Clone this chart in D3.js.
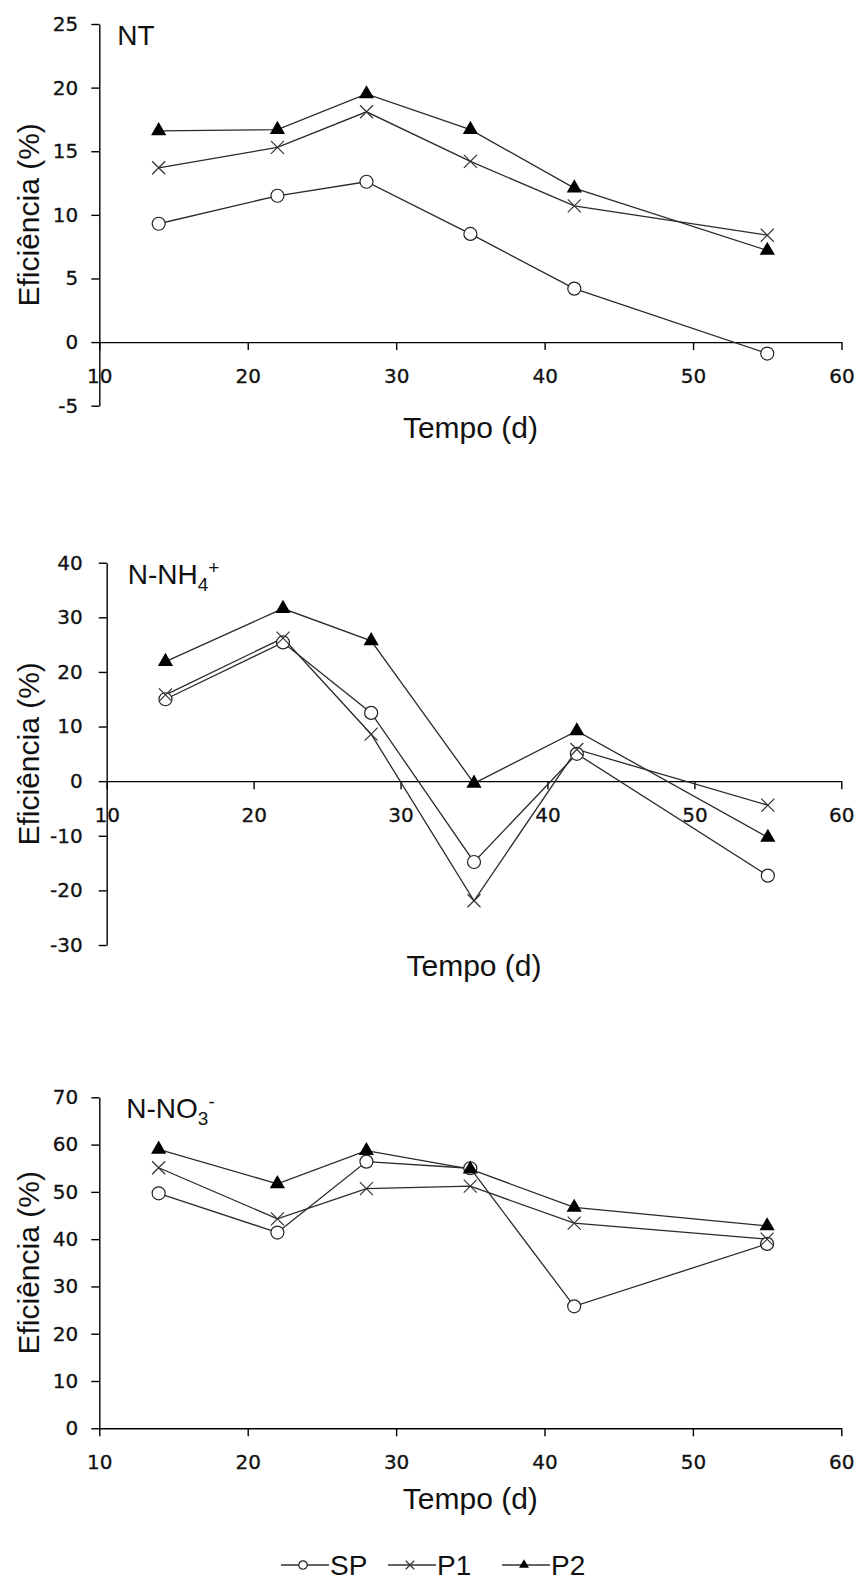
<!DOCTYPE html>
<html>
<head>
<meta charset="utf-8">
<script src="https://cdn.jsdelivr.net/npm/d3@7"></script>
<style>
    body { margin: 0; background: #fff; }
    svg { display: block; }
    .domain, .tick line { stroke: #000; stroke-width: 1.4; }
    .title { font-family: "Liberation Sans", Arial, sans-serif; font-size: 30px; fill: #111; }
    .label, .legend { font-family: "Liberation Sans", Arial, sans-serif; font-size: 28px; fill: #111; }
    .serie { fill: none; stroke: #2a2a2a; stroke-width: 1.3; }
</style>
</head>
<body>
<svg id="chart" width="858" height="1589"></svg>
<script>
// dias de coleta
var days = [14, 22, 28, 35, 42, 55];
var xTicks = [10, 20, 30, 40, 50, 60];
var seriesNames = ["SP", "P1", "P2"];

// NT
var ntSP = [9.3, 11.5, 12.6, 8.5, 4.2, -0.9];
var ntP1 = [13.7, 15.3, 18.1, 14.2, 10.7, 8.4];
var ntP2 = [16.6, 16.7, 19.5, 16.7, 12.1, 7.2];
var ntTicks = [-5, 0, 5, 10, 15, 20, 25];

// N-NH4+
var nh4SP = [15.0, 25.4, 12.5, -14.8, 5.0, -17.3];
var nh4P1 = [15.8, 26.2, 8.6, -21.9, 5.8, -4.4];
var nh4P2 = [21.9, 31.6, 25.7, -0.4, 9.2, -10.3];
var nh4Ticks = [-30, -20, -10, 0, 10, 20, 30, 40];

// N-NO3-
var no3SP = [49.7, 41.4, 56.4, 55.0, 25.8, 39.0];
var no3P1 = [55.1, 44.3, 50.7, 51.2, 43.4, 40.0];
var no3P2 = [59.0, 51.7, 58.7, 54.8, 46.7, 42.8];
var no3Ticks = [0, 10, 20, 30, 40, 50, 60, 70];

(function () {
    var svg = d3.select("#chart");

    // marcadores: circulo vazio, x, triangulo cheio
    function drawMarker(g, type, s) {
        if (type === "SP") {
            g.append("circle").attr("r", 6.5 * s)
                .attr("fill", "#fff").attr("stroke", "#222").attr("stroke-width", 1.2);
        } else if (type === "P1") {
            var h = 6.5 * s;
            g.append("path")
                .attr("d", "M" + -h + "," + -h + "L" + h + "," + h + "M" + -h + "," + h + "L" + h + "," + -h)
                .attr("stroke", "#333").attr("stroke-width", 1.2).attr("fill", "none");
        } else {
            g.append("path")
                .attr("d", d3.symbol().type(d3.symbolTriangle).size(100 * s * s)())
                .attr("fill", "#000");
        }
    }

    function fixFont(g) {
        g.attr("font-family", "'DejaVu Sans', sans-serif").attr("font-size", 20);
        g.selectAll(".tick text").attr("fill", "#111").attr("stroke", "#111").attr("stroke-width", 0.3);
    }

    function drawPanel(p) {
        var x = d3.scaleLinear().domain([10, 60]).range([p.left, p.right]);
        var y = d3.scaleLinear().domain([p.ticks[0], p.ticks[p.ticks.length - 1]]).range([p.bottom, p.top]);

        // eixo X cruza em y = 0
        svg.append("g")
            .attr("transform", "translate(0," + y(0) + ")")
            .call(d3.axisBottom(x).tickValues(xTicks).tickSize(8).tickSizeOuter(0).tickPadding(19)
                .tickFormat(function (d) { return String(d); }))
            .call(fixFont);

        svg.append("g")
            .attr("transform", "translate(" + p.left + ",0)")
            .call(d3.axisLeft(y).tickValues(p.ticks).tickSize(8).tickSizeOuter(0).tickPadding(p.yPad)
                .tickFormat(function (d) { return String(d); }))
            .call(fixFont);

        var line = d3.line()
            .x(function (d, i) { return x(days[i]); })
            .y(function (d) { return y(d); });

        p.data.forEach(function (vals) {
            svg.append("path").attr("class", "serie").attr("d", line(vals));
        });
        p.data.forEach(function (vals, k) {
            vals.forEach(function (v, i) {
                var g = svg.append("g").attr("transform", "translate(" + x(days[i]) + "," + y(v) + ")");
                drawMarker(g, seriesNames[k], 1);
            });
        });

        // titulos
        svg.append("text").attr("class", "title")
            .attr("text-anchor", "middle")
            .attr("transform", "translate(28," + (p.top + p.bottom) / 2 + ") rotate(-90)")
            .attr("dominant-baseline", "central")
            .text("Eficiência (%)");

        svg.append("text").attr("class", "title")
            .attr("text-anchor", "middle")
            .attr("x", (p.left + p.right) / 2)
            .attr("y", p.xTitleY)
            .attr("dominant-baseline", "central")
            .text("Tempo (d)");

        var lab = svg.append("text").attr("class", "label")
            .attr("x", p.left + p.labDx)
            .attr("y", p.top + 21);
        lab.append("tspan").text(p.label[0]);
        if (p.label[1]) {
            lab.append("tspan").attr("font-size", "19px").attr("dy", 7).text(p.label[1]);
            lab.append("tspan").attr("font-size", "19px").attr("dy", -17).text(p.label[2]);
        }
    }

    drawPanel({
        left: 99.3, right: 841.5, top: 24, bottom: 405.7, yPad: 13,
        ticks: ntTicks, data: [ntSP, ntP1, ntP2],
        xTitleY: 427, label: ["NT"], labDx: 18
    });
    drawPanel({
        left: 106.7, right: 841.3, top: 562.7, bottom: 945, yPad: 16,
        ticks: nh4Ticks, data: [nh4SP, nh4P1, nh4P2],
        xTitleY: 965, label: ["N-NH", "4", "+"], labDx: 21
    });
    drawPanel({
        left: 99.3, right: 841.3, top: 1097.3, bottom: 1428.3, yPad: 13,
        ticks: no3Ticks, data: [no3SP, no3P1, no3P2],
        xTitleY: 1498, label: ["N-NO", "3", "-"], labDx: 27
    });

    // legenda
    var legX = [281, 388, 502];
    var leg = svg.append("g").attr("transform", "translate(0,1565)");
    seriesNames.forEach(function (name, k) {
        var g = leg.append("g").attr("transform", "translate(" + legX[k] + ",0)");
        g.append("line").attr("x1", 0).attr("x2", 48).attr("stroke", "#333").attr("stroke-width", 1.3);
        drawMarker(g.append("g").attr("transform", "translate(22,0)"), name, 0.65);
        g.append("text").attr("class", "legend")
            .attr("x", 49).attr("dominant-baseline", "central")
            .text(name);
    });
})();
</script>
</body>
</html>
